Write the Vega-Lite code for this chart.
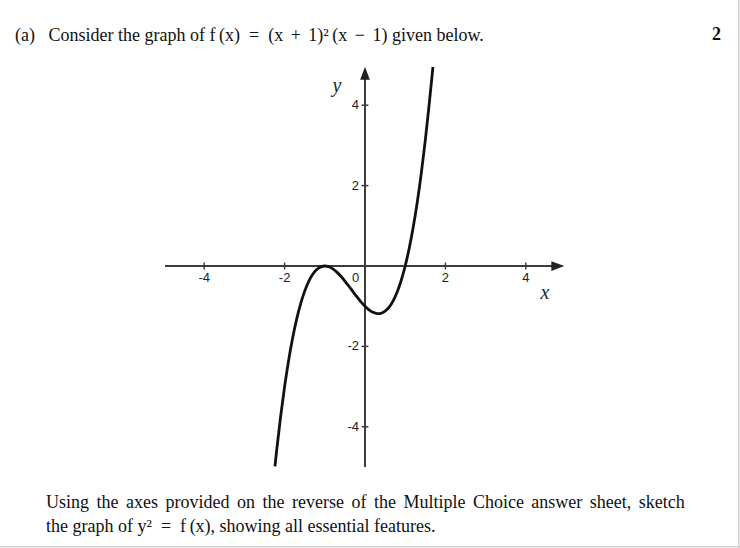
{
  "$schema": "https://vega.github.io/schema/vega-lite/v6.json",
  "width": 402,
  "height": 402,
  "autosize": {"type": "none"},
  "padding": {"left": 164, "top": 65, "right": 174, "bottom": 81},
  "background": "white",
  "config": {"view": {"stroke": null}, "axis": {"disable": true}},
  "data": {"name": "one"},
  "datasets": {
    "one": [{}],
    "curve": [
      {"x": -2.24, "y": -4.982}, {"x": -2.2, "y": -4.608}, {"x": -2.1, "y": -3.751}, {"x": -2.0, "y": -3.0},
      {"x": -1.9, "y": -2.349}, {"x": -1.8, "y": -1.792}, {"x": -1.7, "y": -1.323}, {"x": -1.6, "y": -0.936},
      {"x": -1.5, "y": -0.625}, {"x": -1.4, "y": -0.384}, {"x": -1.3, "y": -0.207}, {"x": -1.2, "y": -0.088},
      {"x": -1.1, "y": -0.021}, {"x": -1.0, "y": 0}, {"x": -0.9, "y": -0.019}, {"x": -0.8, "y": -0.072},
      {"x": -0.7, "y": -0.153}, {"x": -0.6, "y": -0.256}, {"x": -0.5, "y": -0.375}, {"x": -0.4, "y": -0.504},
      {"x": -0.3, "y": -0.637}, {"x": -0.2, "y": -0.768}, {"x": -0.1, "y": -0.891}, {"x": 0, "y": -1},
      {"x": 0.1, "y": -1.089}, {"x": 0.2, "y": -1.152}, {"x": 0.3, "y": -1.183}, {"x": 0.4, "y": -1.176},
      {"x": 0.5, "y": -1.125}, {"x": 0.6, "y": -1.024}, {"x": 0.7, "y": -0.867}, {"x": 0.8, "y": -0.648},
      {"x": 0.9, "y": -0.361}, {"x": 1.0, "y": 0}, {"x": 1.1, "y": 0.441}, {"x": 1.2, "y": 0.968},
      {"x": 1.3, "y": 1.587}, {"x": 1.4, "y": 2.304}, {"x": 1.5, "y": 3.125}, {"x": 1.6, "y": 4.056},
      {"x": 1.69, "y": 4.951}
    ],
    "ticks": [
      {"v": -4, "label": "-4"}, {"v": -2, "label": "-2"}, {"v": 2, "label": "2"}, {"v": 4, "label": "4"}
    ]
  },
  "layer": [
    {
      "mark": {"type": "rule", "color": "#d2d2d2", "strokeWidth": 1.5},
      "encoding": {
        "x": {"datum": -9.2, "type": "quantitative", "scale": {"domain": [-5, 5], "nice": false, "zero": false}},
        "x2": {"datum": 9.4},
        "y": {"datum": -6.985, "type": "quantitative", "scale": {"domain": [-5, 5], "nice": false, "zero": false}}
      }
    },
    {
      "mark": {"type": "rule", "color": "#d2d2d2", "strokeWidth": 1.5},
      "encoding": {
        "x": {"datum": 9.3, "type": "quantitative"},
        "y": {"datum": 6.7, "type": "quantitative"},
        "y2": {"datum": -7.1}
      }
    },
    {
      "mark": {"type": "rule", "color": "#3c3c3c", "strokeWidth": 2},
      "encoding": {
        "x": {"datum": -4.975, "type": "quantitative"},
        "x2": {"datum": 4.7},
        "y": {"datum": 0, "type": "quantitative"}
      }
    },
    {
      "mark": {"type": "rule", "color": "#3c3c3c", "strokeWidth": 2},
      "encoding": {
        "x": {"datum": 0, "type": "quantitative"},
        "y": {"datum": -5, "type": "quantitative"},
        "y2": {"datum": 4.7}
      }
    },
    {
      "mark": {"type": "point", "shape": "M0,0L0.75,2L-0.75,2Z", "size": 169, "filled": true, "opacity": 1, "color": "#222", "strokeWidth": 0},
      "encoding": {
        "x": {"datum": 0, "type": "quantitative"},
        "y": {"datum": 4.958, "type": "quantitative"}
      }
    },
    {
      "mark": {"type": "point", "shape": "M0,0L-2,-0.75L-2,0.75Z", "size": 169, "filled": true, "opacity": 1, "color": "#222", "strokeWidth": 0},
      "encoding": {
        "x": {"datum": 4.958, "type": "quantitative"},
        "y": {"datum": 0, "type": "quantitative"}
      }
    },
    {
      "data": {"name": "ticks"},
      "mark": {"type": "rule", "color": "#3c3c3c", "strokeWidth": 1.5},
      "encoding": {
        "x": {"field": "v", "type": "quantitative"},
        "y": {"datum": -0.085, "type": "quantitative"},
        "y2": {"datum": 0.085}
      }
    },
    {
      "data": {"name": "ticks"},
      "mark": {"type": "rule", "color": "#3c3c3c", "strokeWidth": 1.5},
      "encoding": {
        "y": {"field": "v", "type": "quantitative"},
        "x": {"datum": -0.085, "type": "quantitative"},
        "x2": {"datum": 0.085}
      }
    },
    {
      "data": {"name": "ticks"},
      "mark": {"type": "text", "font": "Liberation Sans", "fontSize": 13, "color": "#222", "align": "center", "baseline": "middle", "dy": 12},
      "encoding": {
        "x": {"field": "v", "type": "quantitative"},
        "y": {"datum": 0, "type": "quantitative"},
        "text": {"field": "label"}
      }
    },
    {
      "data": {"name": "ticks"},
      "mark": {"type": "text", "font": "Liberation Sans", "fontSize": 13, "color": "#222", "align": "right", "baseline": "middle", "dx": -6},
      "encoding": {
        "y": {"field": "v", "type": "quantitative"},
        "x": {"datum": 0, "type": "quantitative"},
        "text": {"field": "label"}
      }
    },
    {
      "mark": {"type": "text", "font": "Liberation Sans", "fontSize": 13, "color": "#222", "align": "center", "baseline": "middle", "text": "0"},
      "encoding": {
        "x": {"datum": -0.231, "type": "quantitative"},
        "y": {"datum": -0.291, "type": "quantitative"}
      }
    },
    {
      "data": {"name": "curve"},
      "mark": {"type": "line", "color": "#111", "strokeWidth": 2.8, "interpolate": "monotone"},
      "encoding": {
        "x": {"field": "x", "type": "quantitative"},
        "y": {"field": "y", "type": "quantitative"}
      }
    },
    {
      "mark": {"type": "text", "font": "Liberation Serif", "fontStyle": "italic", "fontSize": 20, "color": "#222", "align": "center", "baseline": "alphabetic", "text": "y"},
      "encoding": {
        "x": {"datum": -0.697, "type": "quantitative"},
        "y": {"datum": 4.328, "type": "quantitative"}
      }
    },
    {
      "mark": {"type": "text", "font": "Liberation Serif", "fontStyle": "italic", "fontSize": 20, "color": "#222", "align": "center", "baseline": "alphabetic", "text": "x"},
      "encoding": {
        "x": {"datum": 4.478, "type": "quantitative"},
        "y": {"datum": -0.821, "type": "quantitative"}
      }
    },
    {
      "mark": {"type": "text", "font": "Liberation Serif", "fontSize": 18, "color": "#111", "align": "left", "baseline": "alphabetic", "text": "(a)\u00a0\u00a0 Consider the graph of f\u2009(x)\u00a0 =\u00a0 (x\u00a0\u2006+\u00a0\u20061)²\u2009(x\u00a0\u2006−\u00a0\u20061) given below."},
      "encoding": {
        "x": {"datum": -8.706, "type": "quantitative"},
        "y": {"datum": 5.597, "type": "quantitative"}
      }
    },
    {
      "mark": {"type": "text", "font": "Liberation Serif", "fontWeight": "bold", "fontSize": 18, "color": "#111", "align": "right", "baseline": "alphabetic", "text": "2"},
      "encoding": {
        "x": {"datum": 8.856, "type": "quantitative"},
        "y": {"datum": 5.622, "type": "quantitative"}
      }
    },
    {
      "mark": {"type": "text", "font": "Liberation Serif", "fontSize": 18, "color": "#111", "align": "left", "baseline": "alphabetic", "lineHeight": 24,
        "text": ["Using \u2006the \u2006axes \u2006provided \u2006on \u2006the \u2006reverse \u2006of \u2006the \u2006Multiple \u2006Choice \u2006answer \u2006sheet, \u2006sketch", "the graph of y²\u00a0 =\u00a0 f\u2009(x), showing all essential features."]},
      "encoding": {
        "x": {"datum": -7.935, "type": "quantitative"},
        "y": {"datum": -6.02, "type": "quantitative"}
      }
    }
  ]
}
